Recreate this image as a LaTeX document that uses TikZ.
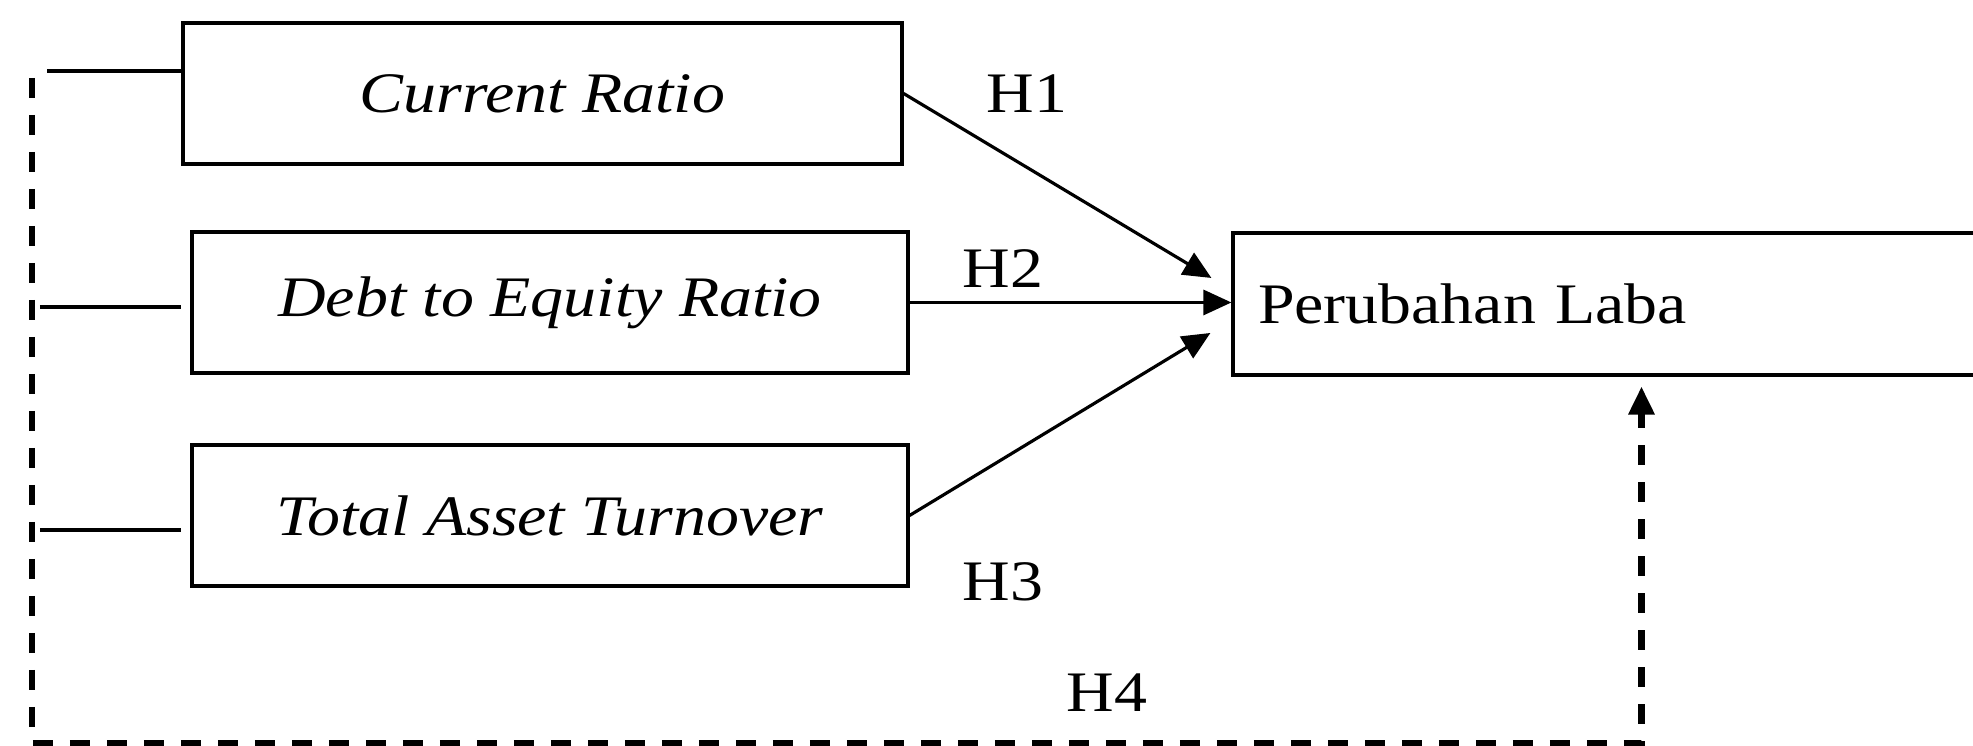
\documentclass[tikz,border=0pt]{standalone}
\usepackage{fontspec}
\setmainfont[FakeStretch=1.15]{Liberation Serif}
\usetikzlibrary{arrows.meta, positioning, calc}

\begin{document}
\begin{tikzpicture}[
    varbox/.style={
        rectangle, draw, line width=0.9pt, minimum width=7.19cm,
        minimum height=1.41cm, inner sep=0pt,
        font=\fontsize{16.3}{19}\selectfont\itshape
    },
    depbox/.style={
        rectangle, draw, line width=0.9pt, text width=7.67cm, align=left,
        minimum height=1.42cm, inner xsep=0.25cm, inner ysep=0pt,
        font=\fontsize{16.3}{19}\selectfont
    },
    hyp/.style={font=\fontsize{16.3}{19}\selectfont, inner sep=0pt},
    edge/.style={-{Triangle[length=0.28cm,width=0.25cm]}, line width=0.9pt},
    link/.style={line width=1pt},
    bus/.style={line width=1.8pt, dash pattern=on 0.2cm off 0.17cm},
]
\clip (0,0) rectangle (19.73,7.46);

% Variables
\node[varbox] (cr) at (5.425, 6.525) {Current Ratio};
\node[varbox, minimum width=7.16cm] (der) at (5.50, 4.435) {Debt to Equity Ratio};
\node[varbox, minimum width=7.16cm] (tato) at (5.50, 2.305) {Total Asset Turnover};

\node[depbox] (pl) at (16.415, 4.42) {Perubahan Laba};

% Simultaneous link
\coordinate (a1) at (0.47, 6.75);
\coordinate (a2) at (0.40, 4.39);
\coordinate (a3) at (0.40, 2.16);
\coordinate (top) at (0.32, 6.68);
\coordinate (bl) at (0.32, 0.03);

\draw[link] (a1) -- (cr.west |- a1);
\draw[link, shorten >=0.09cm] (a2) -- (der.west |- a2);
\draw[link, shorten >=0.09cm] (a3) -- (tato.west |- a3);

\draw[bus, -{Triangle[length=0.28cm,width=0.25cm]}, shorten >=0.1cm]
    (top) -- (bl) -- node[hyp, pos=0.668, above=0.28cm] {H4} (pl.south |- bl) -- (pl.south);

% Partial hypotheses
\draw[edge] (cr.east) -- node[hyp, pos=0.4, above=0.53cm] {H1} ([shift={(-0.2,0.26)}]pl.west);
\draw[edge] (der.east) -- node[hyp, pos=0.29, above=0.13cm] {H2} (der.east -| pl.west);
\draw[edge] (tato.east) -- node[hyp, pos=0.31, below=1.02cm] {H3} ([shift={(-0.21,-0.29)}]pl.west);

\end{tikzpicture}
\end{document}
